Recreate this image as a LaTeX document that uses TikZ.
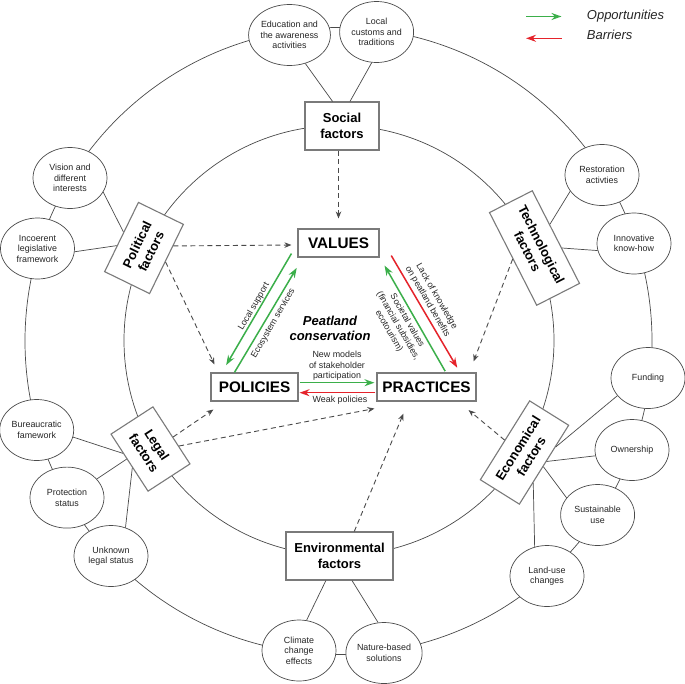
\documentclass[tikz,border=0pt]{standalone}
\usepackage{fontspec}
\setmainfont{Liberation Sans}
\usetikzlibrary{shapes.geometric,arrows.meta,calc}
\definecolor{ogreen}{HTML}{3BAF4A}
\definecolor{bred}{HTML}{E5232B}
\definecolor{lgray}{HTML}{4A4A4A}
\definecolor{bgray}{HTML}{7A7A7A}
\begin{document}
\begin{tikzpicture}[x=1pt,y=1pt,
  ring/.style={draw=lgray, line width=0.7pt},
  fbox/.style={draw=bgray, line width=1.1pt, fill=white, align=center, font=\fontsize{13}{15.5}\selectfont\bfseries, inner sep=0pt},
  cbox/.style={draw=bgray, line width=1.1pt, fill=white, font=\fontsize{15.3}{18}\selectfont\bfseries, inner sep=0pt, minimum height=28},
  oval/.style={ellipse, draw=lgray, line width=0.7pt, fill=white, align=center, minimum width=74, minimum height=61, inner sep=0pt, font=\fontsize{8.9}{10.5}\selectfont, text=black!85},
  link/.style={draw=lgray, line width=0.7pt},
  dasharrow/.style={draw=lgray, line width=0.9pt, dash pattern=on 5pt off 3.5pt, -{Stealth[length=7pt,width=5.5pt]}},
  garrow/.style={draw=ogreen, line width=1.5pt, -{Stealth[length=10pt,width=7pt]}},
  rarrow/.style={draw=bred, line width=1.5pt, -{Stealth[length=10pt,width=7pt]}},
  lbl/.style={font=\fontsize{8.9}{10.5}\selectfont, align=center, inner sep=0pt, text=black!85},
  legtext/.style={font=\fontsize{13}{15}\selectfont\itshape, anchor=base west, inner sep=0pt, text=black!85},
]
\useasboundingbox (0,0) rectangle (685,-683);
\fill[white] (0,0) rectangle (685,-683);

% rings
\draw[ring] (339,-340.5) circle[radius=215];
\draw[ring] (338.5,-341) circle[radius=313.5];

% ellipses
\node[oval] (edu) at (289.5,-35) {Education and\\the awareness\\activities};
\node[oval] (loc) at (376.6,-32) {Local\\customs and\\traditions};
\node[oval] (vis) at (70,-178) {Vision and\\different\\interests};
\node[oval] (inc) at (37.5,-248.5) {Incoerent\\legislative\\framework};
\node[oval] (res) at (602,-175) {Restoration\\activties};
\node[oval] (inn) at (634,-243.5) {Innovative\\know-how};
\node[oval] (fun) at (648,-378) {Funding};
\node[oval] (own) at (632,-450) {Ownership};
\node[oval] (sus) at (597.6,-515) {Sustainable\\use};
\node[oval] (lan) at (547,-576) {Land-use\\changes};
\node[oval] (bur) at (36.7,-430) {Bureaucratic\\famework};
\node[oval] (pro) at (67,-497.6) {Protection\\status};
\node[oval] (unk) at (111,-556) {Unknown\\legal status};
\node[oval] (cli) at (299,-650.5) {Climate\\change\\effects};
\node[oval] (nat) at (384,-653) {Nature-based\\solutions};

% factor boxes
\node[fbox, minimum width=74, minimum height=48] (soc) at (342,-126) {Social\\factors};
\node[fbox, minimum width=107, minimum height=48] (env) at (339.5,-556) {Environmental\\factors};
\node[fbox, minimum width=77, minimum height=50, rotate=64] (pol) at (144,-248) {Political\\factors};
\node[fbox, minimum width=104, minimum height=48, rotate=-63] (tec) at (534.5,-248) {Technological\\factors};
\node[fbox, minimum width=68, minimum height=50, rotate=-57] (leg) at (150.5,-449) {Legal\\factors};
\node[fbox, minimum width=93, minimum height=46, rotate=58] (eco) at (524.5,-452.5) {Economical\\factors};

% core boxes
\node[cbox, minimum width=81] (val) at (338.5,-243) {VALUES};
\node[cbox, minimum width=87] (poli) at (254.5,-387) {POLICIES};
\node[cbox, minimum width=99] (prac) at (426.5,-387) {PRACTICES};

\node[font=\fontsize{13}{15.3}\selectfont\bfseries\itshape, align=center, inner sep=0pt] (pc) at (330,-328) {Peatland\\conservation};

% links
\draw[link] (edu.-61) -- (soc.111);
\draw[link] (loc.-99) -- (soc.72);
\draw[link] (vis.-23) -- (pol.78);
\draw[link] (inc.-5) -- (pol.111);
\draw[link] (res.207) -- (tec.120);
\draw[link] (inn.191) -- (tec.63);
\draw[link] (fun.210) -- (eco.-48);
\draw[link] (own.189) -- (eco.-80);
\draw[link] (sus.151) -- (eco.-95);
\draw[link] (lan.113) -- (eco.-132);
\draw[link] (bur.-11) -- (leg.-114);
\draw[link] (pro.32) -- (leg.-100);
\draw[link] (unk.63) -- (leg.-77);
\draw[link] (cli.76) -- (env.-119);
\draw[link] (nat.101) -- (env.-63);

% dashed influences
\draw[dasharrow] (soc.south -| val.north) -- ($(val.north)+(0,10)$);
\draw[dasharrow] (pol.-60) -- ($(val.west)+(-6,-2)$);
\draw[dasharrow] (pol.-97) -- ($(poli.north west)+(4,8)$);
\draw[dasharrow] (tec.south) -- ($(prac.north east)+(-3,11)$);
\draw[dasharrow] (leg.85) -- ($(poli.south west)+(3,-8)$);
\draw[dasharrow] (leg.63) -- ($(prac.south west)+(-2,-7)$);
\draw[dasharrow] (env.59) -- ($(prac.south west)+(27,-12)$);
\draw[dasharrow] (eco.north) -- ($(prac.south east)+(-8,-8.5)$);

% opportunities and barriers
\draw[garrow] ($(val.south west)+(-6,4)$) -- ($(poli.north west)+(15.7,7.3)$);
\draw[garrow] ($(poli.north west)+(24,0)$) -- ($(val.south west)+(-0.7,-10.3)$);
\draw[garrow] ($(prac.north west)+(68.7,1.3)$) -- ($(val.south east)+(5,-8)$);
\draw[rarrow] ($(val.south east)+(11.7,2)$) -- ($(prac.north east)+(-19.3,4.7)$);
\draw[garrow] ($(poli.east)+(1,4.3)$) -- ($(prac.west)+(-2,4.3)$);
\draw[rarrow] ($(prac.west)+(-1,-5.7)$) -- ($(poli.east)+(1,-5.7)$);

% labels
\node[lbl, rotate=60] (lls) at (254,-306.7) {Local support};
\node[lbl, rotate=60] (les) at (273.3,-323.3) {Ecosystem services};
\node[lbl, rotate=-60] (llk) at (432,-299) {Lack of knowledge\\on peatland benefits};
\node[lbl, rotate=-60] (lsv) at (398,-326) {Societal values\\(financial subsidies,\\ecotourism)};
\node[lbl] (lnm) at (337,-366) {New models\\of stakeholder\\participation};
\node[lbl] (lwp) at (340,-400) {Weak policies};

% legend
\coordinate (lgA) at (526,-16.5);
\coordinate (lgB) at (561.5,-16.5);
\coordinate (lrA) at (561.5,-38.3);
\coordinate (lrB) at (526,-38.3);
\draw[garrow] (lgA) -- (lgB);
\draw[rarrow] (lrA) -- (lrB);
\node[legtext] (lgo) at (586.7,-19.3) {Opportunities};
\node[legtext] (lgb) at (586.7,-39.5) {Barriers};
\end{tikzpicture}
\end{document}
